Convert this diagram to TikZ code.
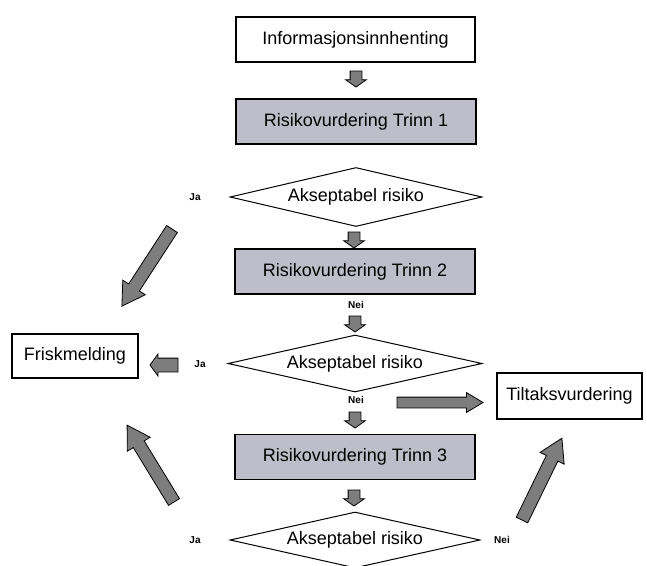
\documentclass[tikz,border=0pt]{standalone}
\usepackage{fontspec}
\setmainfont{Liberation Sans}
\usetikzlibrary{shapes.geometric,shapes.arrows}
\definecolor{boxgray}{RGB}{190,190,202}
\definecolor{arrowgray}{RGB}{125,125,125}
\begin{document}
\begin{tikzpicture}[x=1pt,y=-1pt,
  txt/.style={font=\fontsize{18}{21}\selectfont},
  plainbox/.style={draw=black, line width=1.1pt, fill=white, inner sep=0pt, txt},
  graybox/.style={plainbox, fill=boxgray, minimum width=240pt, minimum height=45pt},
  decision/.style={diamond, draw=black, line width=1pt, fill=white, inner sep=0pt, txt},
  lab/.style={font=\fontsize{10}{12}\selectfont\bfseries, inner sep=1pt},
  blk/.style={single arrow, draw=black, fill=arrowgray, line width=0.8pt, inner xsep=0pt, outer sep=0pt, anchor=tail},
  smalldown/.style={blk, minimum height=16pt, inner ysep=5.5pt, single arrow head extend=4.5pt, single arrow tip angle=110, rotate=-90},
  bigdiag/.style={blk, minimum height=#1, inner ysep=6pt, single arrow head extend=7pt, single arrow tip angle=62},
]
\useasboundingbox (0,0) rectangle (647,565);
\fill[white] (0,0) rectangle (647,565);

% boxes
\node[plainbox, minimum width=239pt, minimum height=45pt] (info) at (355.5,39.5) {Informasjonsinnhenting};
\node[graybox] (t1) at (356,121.5) {Risikovurdering Trinn 1};
\node[graybox] (t2) at (355,271.5) {Risikovurdering Trinn 2};
\node[graybox] (t3) at (355,457) {Risikovurdering Trinn 3};
\node[plainbox, minimum width=126pt, minimum height=44pt] (frisk) at (75,356) {Friskmelding};
\node[plainbox, minimum width=145pt, minimum height=46pt] (tiltak) at (569.5,396) {Tiltaksvurdering};

% decisions
\node[decision, aspect=4.27, minimum width=252pt, minimum height=59pt] (d1) at (356,197) {Akseptabel risiko};
\node[decision, aspect=4.45, minimum width=254pt, minimum height=57pt] (d2) at (355,363.5) {Akseptabel risiko};
\node[decision, aspect=4.46, minimum width=250pt, minimum height=56pt] (d3) at (355,540) {Akseptabel risiko};

% labels
\node[lab] (ja1) at (195,197) {Ja};
\node[lab] (nei1) at (356,305) {Nei};
\node[lab] (ja2) at (200,364) {Ja};
\node[lab] (nei2) at (356,400) {Nei};
\node[lab] (ja3) at (195,540) {Ja};
\node[lab] (nei3) at (502,540) {Nei};

% small down arrows
\node[smalldown] (a1) at (356,71) {};
\node[smalldown] (a2) at (354,232) {};
\node[smalldown] (a3) at (355,316) {};
\node[smalldown] (a4) at (355,412) {};
\node[smalldown] (a5) at (354,490) {};

% small left arrow to Friskmelding
\node[blk, minimum height=28pt, inner ysep=6.5pt, single arrow head extend=4pt, single arrow tip angle=108, rotate=180] (aj) at (178,365) {};

% right arrow to Tiltaksvurdering
\node[blk, minimum height=86pt, inner ysep=5pt, single arrow head extend=4.5pt, single arrow tip angle=62] (an) at (397,402.5) {};

% big diagonal arrows
\node[bigdiag=92pt, rotate=-123] (ul) at (172,229) {};
\node[bigdiag=90pt, rotate=121.4] (ll) at (174,502) {};
\node[bigdiag=91pt, rotate=64] (lr) at (522,520) {};
\end{tikzpicture}
\end{document}
